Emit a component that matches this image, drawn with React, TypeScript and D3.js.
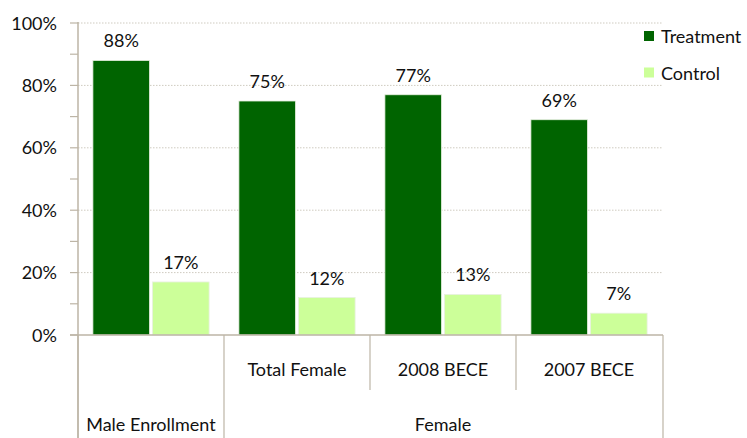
import React from "react";
import * as d3 from "d3";

const categories = ["Male Enrollment", "Total Female", "2008 BECE", "2007 BECE"];
const groupLabels = ["Male Enrollment", "Female"];
const seriesNames = ["Treatment", "Control"];
const treatment = [88, 75, 77, 69];
const control = [17, 12, 13, 7];
const majorTicks = [0, 20, 40, 60, 80, 100];
const minorTicks = [10, 30, 50, 70, 90];

const colors: Record<string, string> = { Treatment: "#006400", Control: "#CCFF99" };
const axisColor = "#BDB5A6";
const font = "Lato, 'Open Sans', sans-serif";
const fs = 18;
const txt = "#111";

export default function App() {
  const W = 747, H = 438;
  const left = 78, right = 662, top = 23, bottom = 335;
  const y = d3.scaleLinear().domain([0, 100]).range([bottom, top]);
  const x0 = d3.scaleBand<string>().domain(categories).range([left, right]).padding(0);
  const x1 = d3.scaleBand<string>().domain(seriesNames).range([0, x0.bandwidth()]).paddingInner(0.05).paddingOuter(0.25);
  const values: Record<string, number[]> = { Treatment: treatment, Control: control };

  return (
    <svg width={W} height={H} style={{ position: "absolute", left: 0, top: 0 }}>
      <rect width={W} height={H} fill="#fff" />
      {majorTicks.filter(t => t > 0).map(t => (
        <line key={"g" + t} x1={left} x2={right} y1={y(t)} y2={y(t)} stroke="#CFCBC0" strokeWidth={1} strokeDasharray="1.5,1.5" />
      ))}
      {categories.map((c, i) =>
        seriesNames.map(s => {
          const v = values[s][i];
          const bx = (x0(c) as number) + (x1(s) as number);
          return (
            <g key={c + s}>
              <rect x={bx} y={y(v)} width={x1.bandwidth()} height={bottom - y(v)} fill={colors[s]} stroke="#E8F0E0" strokeWidth={0.8} />
              <text x={bx + x1.bandwidth() / 2} y={y(v) - 13} textAnchor="middle" fontFamily={font} fontSize={fs} fill={txt}>{v}%</text>
            </g>
          );
        })
      )}
      {/* y axis */}
      <line x1={left} x2={left} y1={top - 1} y2={H} stroke={axisColor} strokeWidth={1.5} />
      {majorTicks.map(t => (
        <g key={"t" + t}>
          <line x1={70} x2={left} y1={y(t)} y2={y(t)} stroke={axisColor} strokeWidth={1.2} />
          <text x={57} y={y(t) + 6.5} textAnchor="end" fontFamily={font} fontSize={fs} fill={txt}>{t}%</text>
        </g>
      ))}
      {minorTicks.map(t => (
        <line key={"m" + t} x1={70} x2={left} y1={y(t)} y2={y(t)} stroke={axisColor} strokeWidth={1.2} />
      ))}
      {/* category axis */}
      <line x1={70} x2={right + 1} y1={bottom} y2={bottom} stroke={axisColor} strokeWidth={1.5} />
      {categories.map((c, i) => {
        const xs = x0(c) as number;
        const long = i === 0 || i === 1;
        return <line key={"s" + c} x1={xs} x2={xs} y1={bottom} y2={long ? H : 390} stroke={axisColor} strokeWidth={1.2} />;
      })}
      <line x1={right + 1} x2={right + 1} y1={bottom} y2={H} stroke={axisColor} strokeWidth={1.2} />
      {categories.slice(1).map(c => (
        <text key={"l" + c} x={(x0(c) as number) + x0.bandwidth() / 2} y={375.5} textAnchor="middle" fontFamily={font} fontSize={fs} fill={txt}>{c}</text>
      ))}
      <text x={(x0(categories[0]) as number) + x0.bandwidth() / 2} y={430.5} textAnchor="middle" fontFamily={font} fontSize={fs} fill={txt}>{groupLabels[0]}</text>
      <text x={((x0(categories[1]) as number) + right) / 2} y={430.5} textAnchor="middle" fontFamily={font} fontSize={fs} fill={txt}>{groupLabels[1]}</text>
      {/* legend */}
      {seriesNames.map((s, i) => (
        <g key={"lg" + s}>
          <rect x={644} y={31 + i * 36.5} width={10} height={10} fill={colors[s]} />
          <text x={661} y={43 + i * 36.5} fontFamily={font} fontSize={fs} fill={txt}>{s}</text>
        </g>
      ))}
    </svg>
  );
}
